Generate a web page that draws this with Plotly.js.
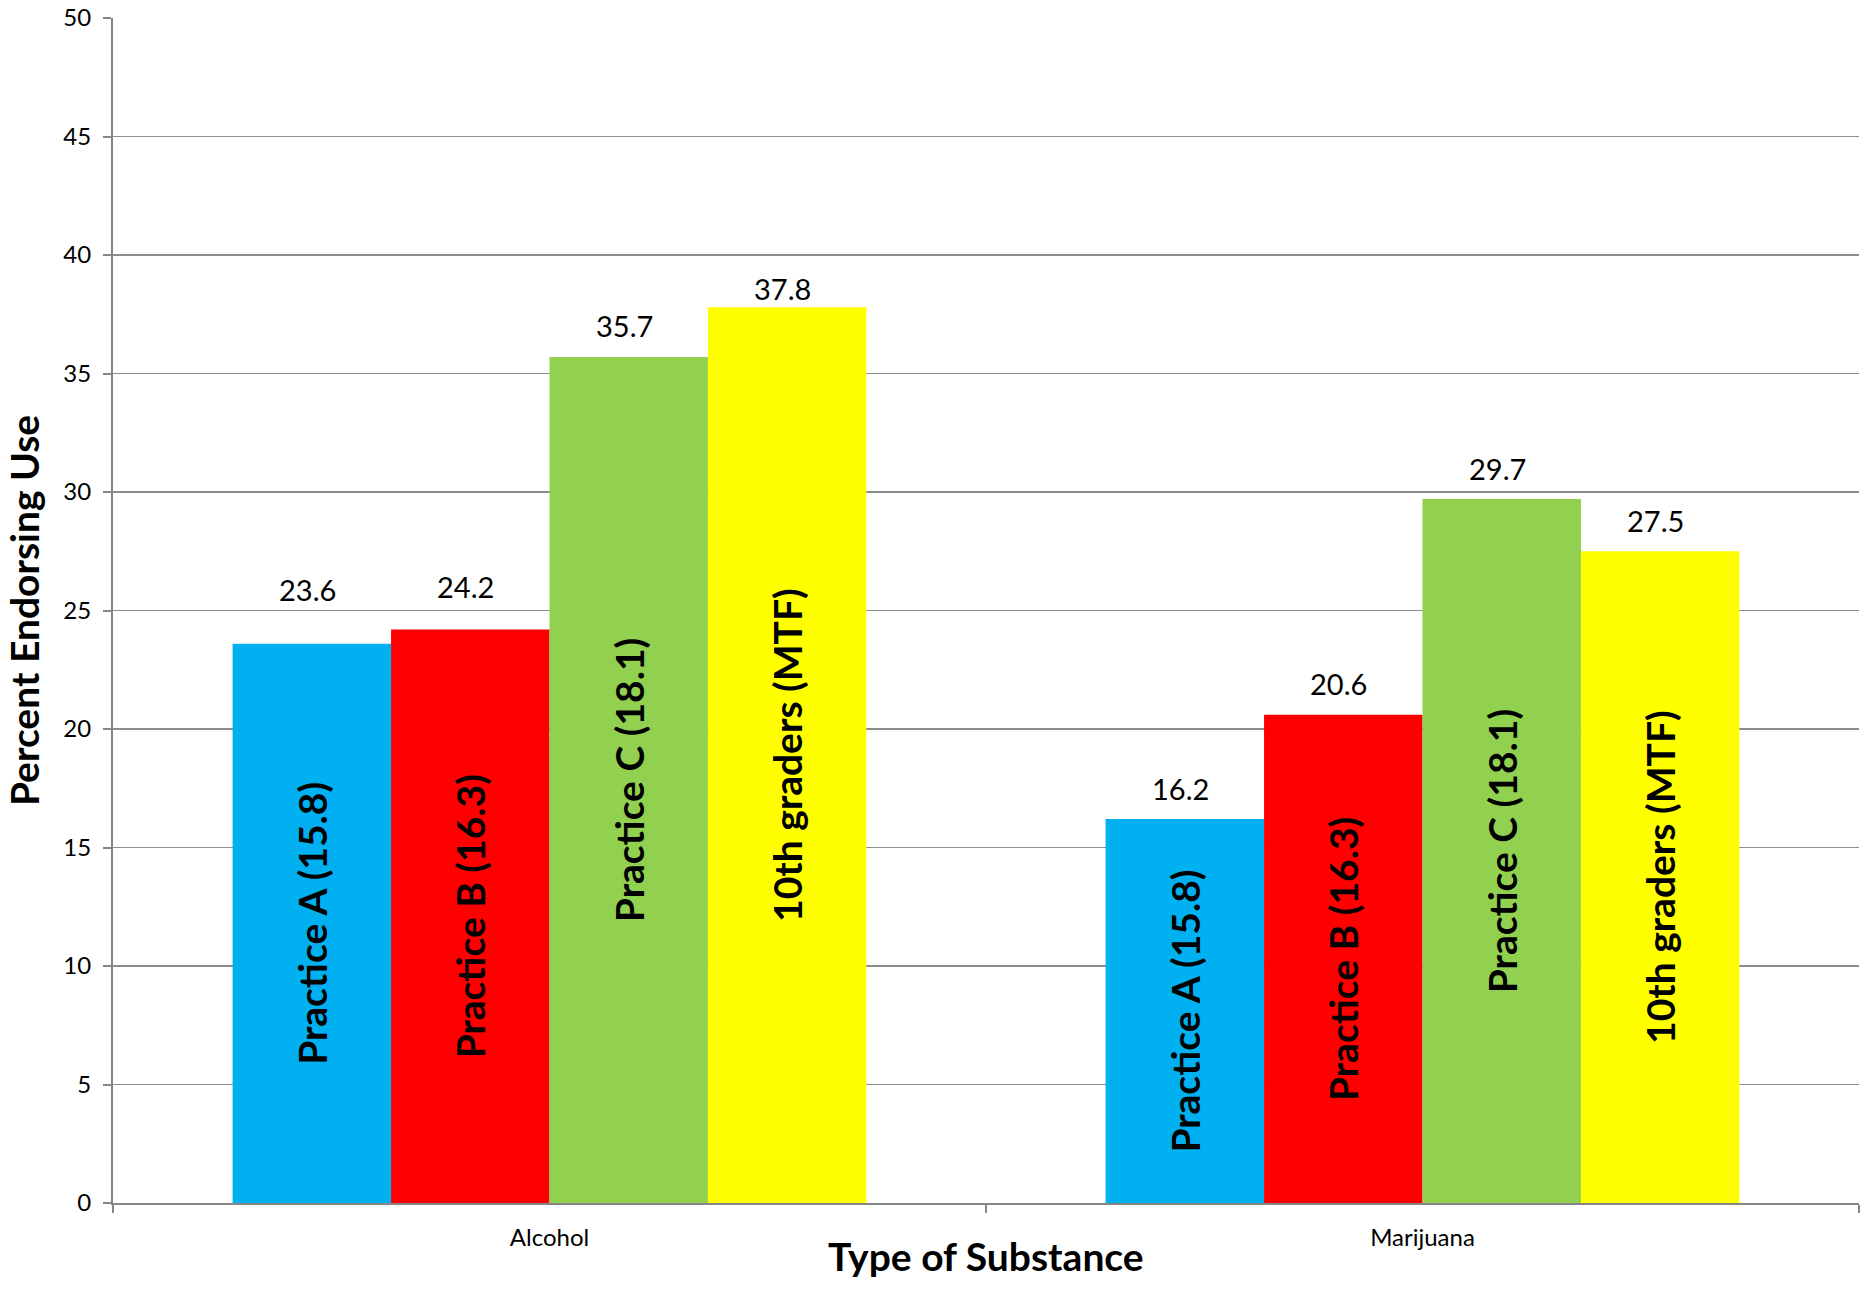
<!DOCTYPE html>
<html>
<head>
<meta charset="utf-8">
<script src="https://cdn.plot.ly/plotly-3.0.1.min.js"></script>
<style>html,body{margin:0;padding:0;background:#fff;}#chart{width:1868px;height:1312px;}</style>
</head>
<body>
<div id="chart"></div>
<script>
// ---- data ----
const categories = ["Alcohol", "Marijuana"];
const seriesNames = ["Practice A (15.8)", "Practice B (16.3)", "Practice C (18.1)", "10th graders (MTF)"];
const practiceA = [23.6, 16.2];
const practiceB = [24.2, 20.6];
const practiceC = [35.7, 29.7];
const mtf10th   = [37.8, 27.5];
const yTicks = [0, 5, 10, 15, 20, 25, 30, 35, 40, 45, 50];
const xTitle = "Type of Substance";
const yTitle = "Percent Endorsing Use";

// ---- style ----
const colors = ["#00B0F0", "#FF0000", "#92D050", "#FFFF00"];
const labelLift = [[54, 31], [43, 31], [31, 31], [19, 31]]; // pixel lift of value labels
const FONT = "Lato, 'Open Sans', sans-serif";
const BARGAP = 0.274;

const seriesValues = [practiceA, practiceB, practiceC, mtf10th];

const traces = seriesValues.map((vals, i) => ({
  type: "bar",
  name: seriesNames[i],
  x: categories,
  y: vals,
  marker: {color: colors[i], line: {width: 0}},
  text: categories.map(() => seriesNames[i]),
  textposition: "inside",
  insidetextanchor: "middle",
  textangle: -90,
  constraintext: "none",
  insidetextfont: {family: FONT, size: 39, color: "#000", weight: "bold"},
  hoverinfo: "none"
}));

const nS = seriesValues.length;
const bw = (1 - BARGAP) / nS;
const annotations = [];
seriesValues.forEach((vals, i) => {
  vals.forEach((v, c) => {
    annotations.push({
      xref: "x", yref: "y",
      x: c + (i - (nS - 1) / 2) * bw - 0.005,
      y: v,
      yanchor: "middle",
      yshift: labelLift[i][c],
      text: v.toFixed(1),
      showarrow: false,
      font: {family: FONT, size: 29, color: "#000"}
    });
  });
});
// x-axis title as an annotation so it can sit closer to the category labels
annotations.push({
  xref: "paper", yref: "paper", x: 0.5, y: 0,
  xanchor: "center", yanchor: "middle", yshift: -53,
  text: xTitle, showarrow: false,
  font: {family: FONT, size: 39, color: "#000", weight: "bold"}
});

const layout = {
  width: 1868, height: 1312,
  margin: {l: 113, r: 9, t: 18, b: 109, pad: 0},
  paper_bgcolor: "#fff", plot_bgcolor: "#fff",
  barmode: "group", bargap: BARGAP, bargroupgap: 0,
  showlegend: false,
  font: {family: FONT, color: "#000"},
  xaxis: {
    type: "category",
    showline: true, linecolor: "#868686", linewidth: 2,
    ticks: "outside", tickson: "boundaries", ticklen: 8, tickwidth: 2, tickcolor: "#868686",
    showgrid: false, zeroline: false,
    tickfont: {family: FONT, size: 24, color: "#000"},
    ticklabelstandoff: 12,
    automargin: false
  },
  yaxis: {
    range: [0, 50],
    tickvals: yTicks,
    showline: true, linecolor: "#868686", linewidth: 2,
    ticks: "outside", ticklen: 8, tickwidth: 2, tickcolor: "#868686",
    showgrid: true, gridcolor: "#8c8c8c", gridwidth: 1.5,
    zeroline: false,
    tickfont: {family: FONT, size: 24, color: "#000"},
    ticklabelstandoff: 7,
    title: {text: yTitle, font: {family: FONT, size: 39, color: "#000", weight: "bold"}, standoff: 12},
    automargin: false
  },
  annotations: annotations
};

Plotly.newPlot("chart", traces, layout, {displayModeBar: false, staticPlot: true});
</script>
</body>
</html>
